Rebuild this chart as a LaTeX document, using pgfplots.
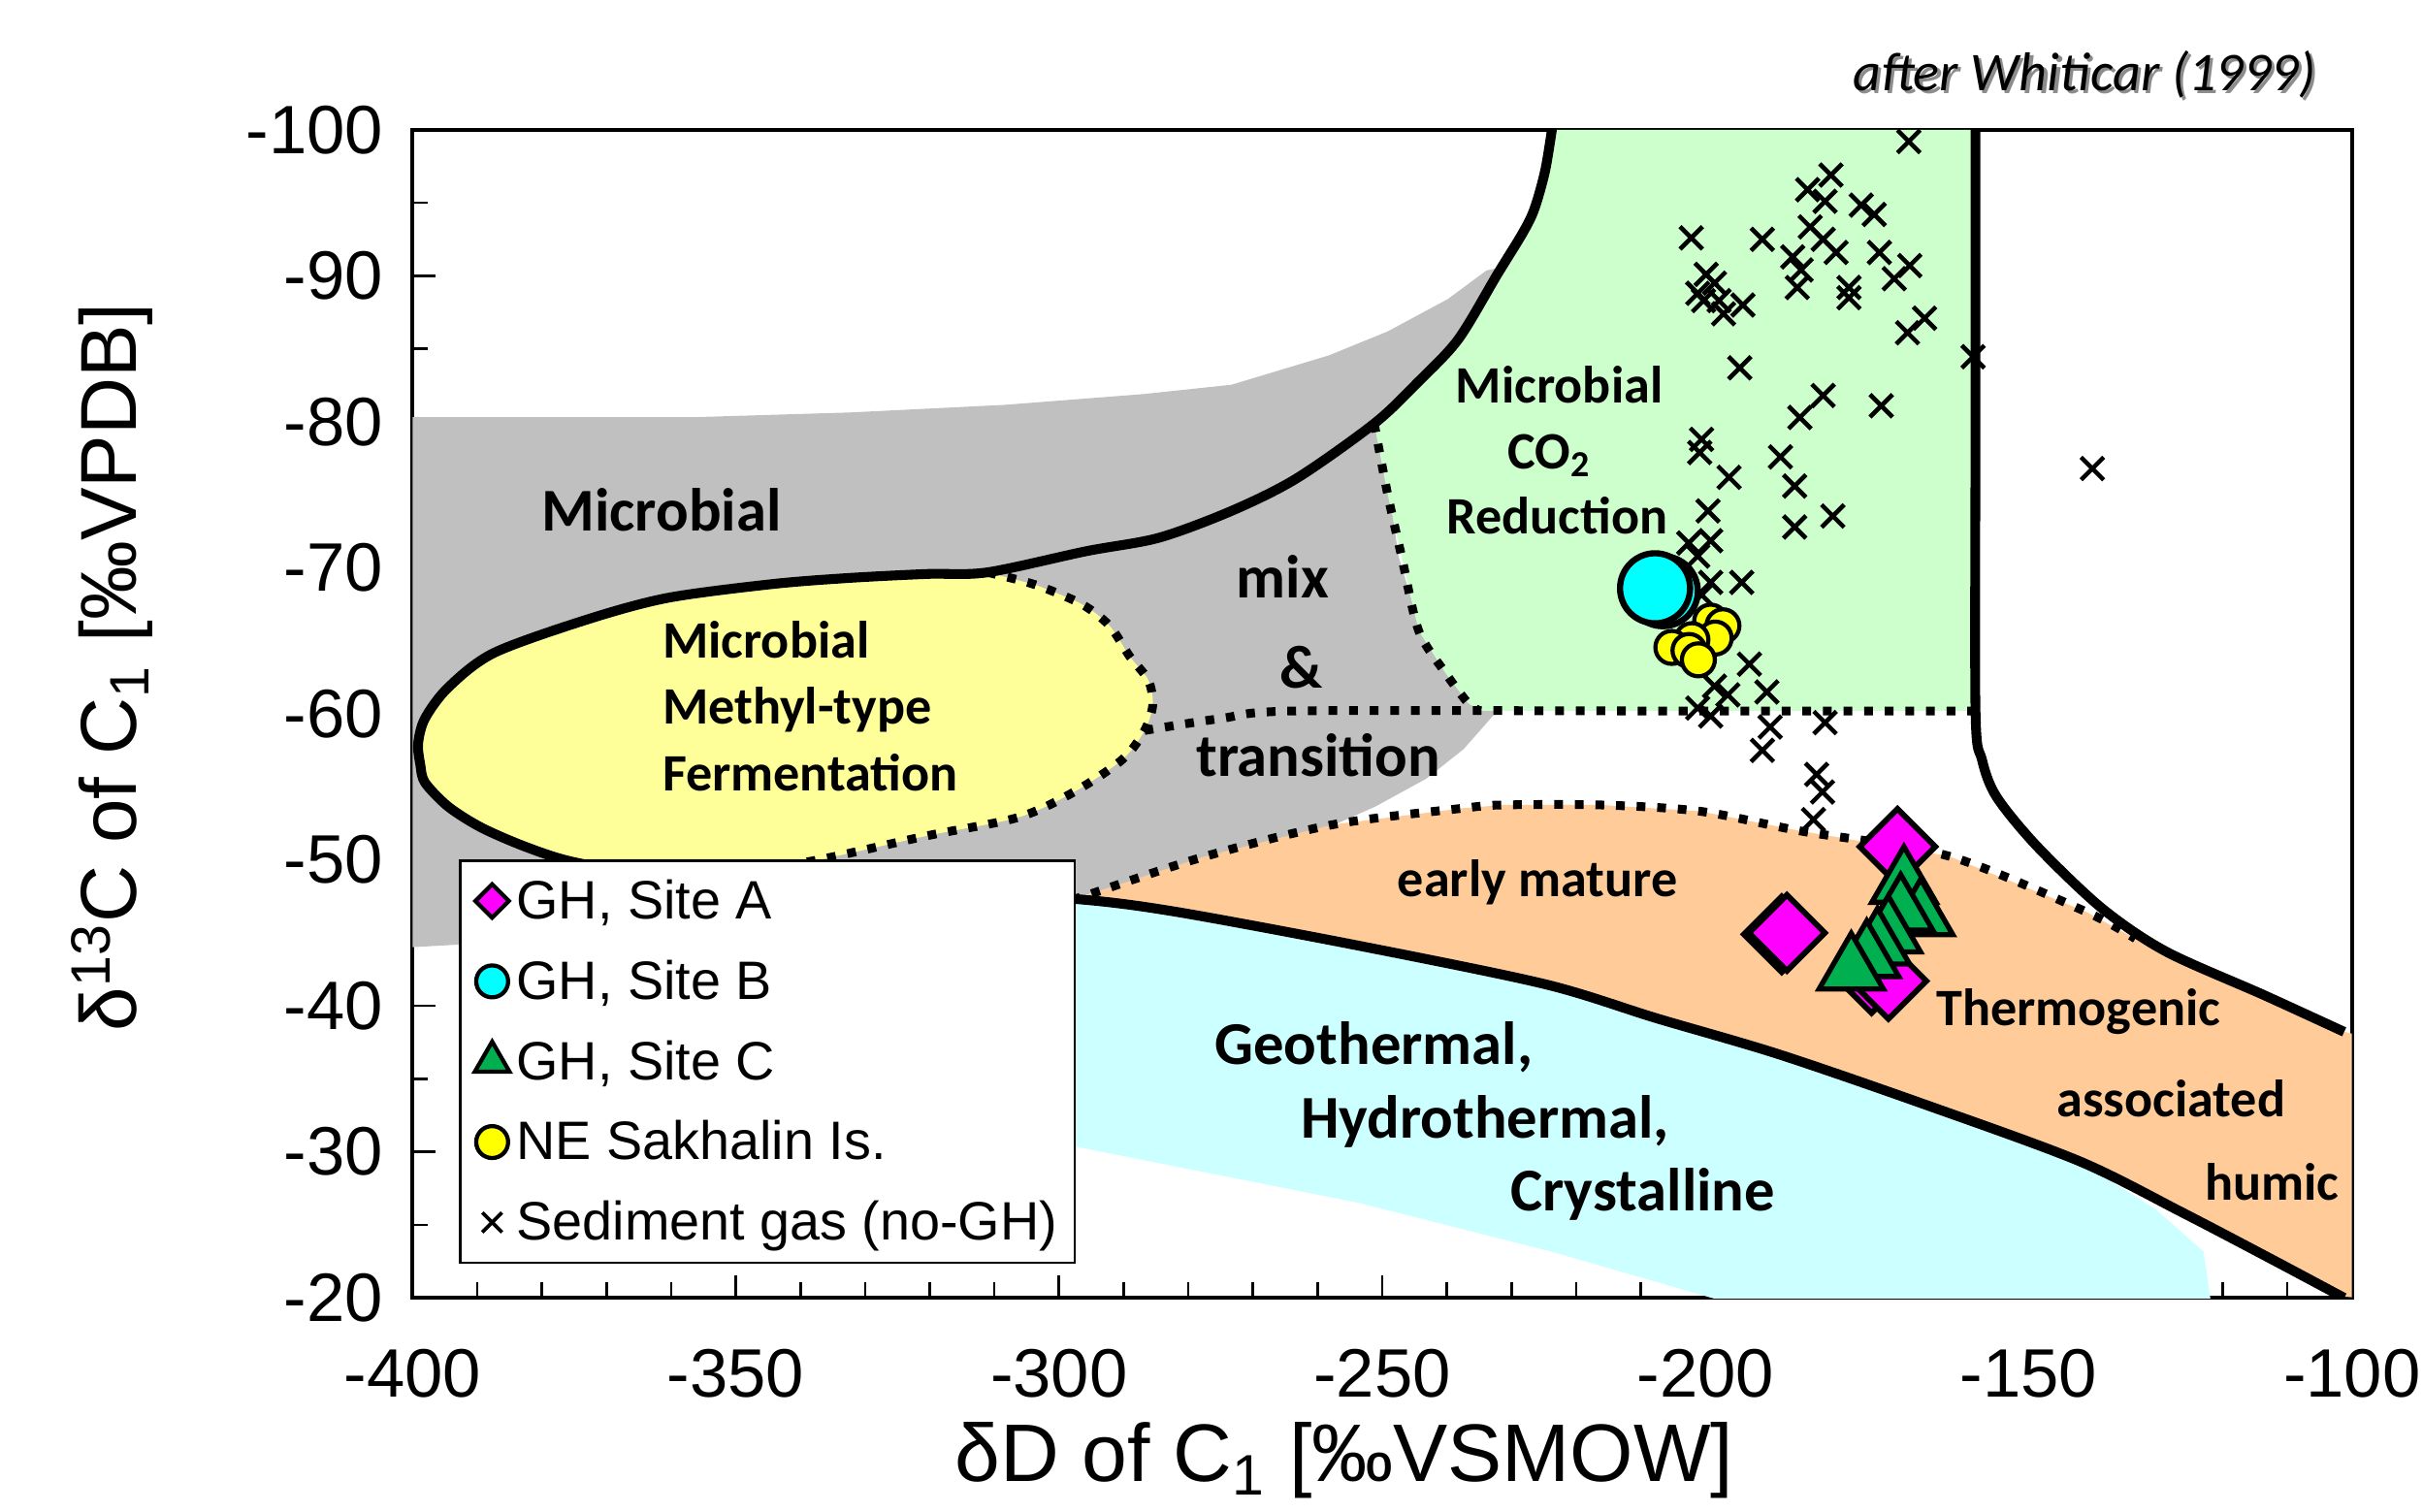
\documentclass[border=0pt]{standalone}
\usepackage{fontspec}
\setmainfont{Liberation Sans}
\newfontfamily\calibri{Carlito}
\usepackage{pgfplots}
\pgfplotsset{compat=1.18}
\definecolor{mgrey}{HTML}{C0C0C0}
\definecolor{mgreen}{HTML}{CCFFCC}
\definecolor{myellow}{HTML}{FFFF99}
\definecolor{morange}{HTML}{FFCC99}
\definecolor{mcyan}{HTML}{CCFFFF}
\definecolor{gtri}{HTML}{00B050}
\definecolor{cmark}{HTML}{00FFFF}
\definecolor{ymark}{HTML}{FFFF00}
\definecolor{dmark}{HTML}{FF00FF}
\newcommand\lblS{\calibri\bfseries\fontsize{10.2}{12.9}\selectfont}
\newcommand\lblL{\calibri\bfseries\fontsize{11.8}{14}\selectfont}
\pgfplotsset{
  myleg/.style={legend image code/.code={\path (-3.6pt,0pt);\draw[##1,#1] plot coordinates {(0pt,0pt)};}},
  mydot/.style={black, line width=1.7pt, dash pattern=on 1.7pt off 2.3pt, smooth, tension=0.5, forget plot},
  mysolid/.style={black, line width=1.9pt, line join=round, smooth, tension=0.5, forget plot},
}
\begin{document}
\begin{tikzpicture}
\useasboundingbox (-80.1pt,-41.4pt) rectangle (390.3pt,252pt);
\begin{axis}[
  at={(0pt,0pt)}, anchor=south west,
  scale only axis, width=376.5pt, height=226.8pt,
  xmin=-400, xmax=-100, ymin=-100, ymax=-20, y dir=reverse,
  xtick={-400,-350,...,-100}, ytick={-100,-90,...,-20},
  xticklabels={-400,-350,-300,-250,-200,-150,-100},
  yticklabels={-100,-90,-80,-70,-60,-50,-40,-30,-20},
  minor x tick num=4, minor y tick num=1,
  tick align=inside, xtick pos=left, ytick pos=left,
  major tick length=4.4pt, minor tick length=3pt,
  tick style={black, line width=0.5pt},
  axis line style={line width=0.8pt},
  ticklabel style={font=\fontsize{13.3}{14}\selectfont},
  xticklabel shift=6.4pt, yticklabel shift=2.2pt,
  xlabel={δD of C\textsubscript{1} [‰VSMOW]},
  ylabel={δ\textsuperscript{13}C of C\textsubscript{1} [‰VPDB]},
  every axis x label/.style={at={(axis description cs:0.4805,-0.1389)}, anchor=center, font=\fontsize{15.85}{18}\selectfont},
  every axis y label/.style={at={(axis description cs:-0.155,0.54)}, anchor=center, rotate=90, font=\fontsize{15.4}{18}\selectfont},
  legend style={at={(axis description cs:0.0239,0.0291)}, anchor=south west,
    draw=black, line width=0.5pt, fill=white,
    font=\fontsize{10.5}{12}\selectfont,
    inner xsep=2pt, inner ysep=0pt, row sep=0pt, column sep=0pt,
    nodes={inner ysep=2.5pt, inner xsep=1.35pt, text height=8.75pt, text depth=1.85pt}},
  legend cell align=left,
]
% ---------- regions ----------
\addplot[draw=none, fill=mgrey, forget plot] coordinates {
(-400,-80.32) (-356.26,-80.32) (-332.35,-80.64) (-308.45,-81.16) (-286.93,-81.90) (-273.31,-82.54) (-258.25,-84.55) (-249.16,-86.19) (-239.84,-88.41) (-233.86,-90.37) (-231.47,-90.58) (-234.34,-86.67) (-241.51,-82.43) (-249.88,-78.20) (-247.49,-70.79) (-243.90,-65.50) (-236.73,-61.27) (-232.19,-60.21) (-237.45,-57.57) (-243.19,-55.56) (-251.07,-53.65) (-257.53,-52.38) (-277.37,-50.05) (-296.49,-47.51) (-344.30,-45.40) (-400,-44.02)
} -- cycle;
\addplot[draw=none, fill=mgreen, forget plot] coordinates {
(-223.59,-100) (-158.23,-100) (-158.23,-60.21) (-234.82,-60.21) (-236.73,-60.74) (-240.32,-62.86) (-244.38,-65.71) (-247.01,-70.79) (-249.16,-75.03) (-251.24,-79.88) (-244.63,-82.65) (-238.26,-85.64) (-232.24,-90.07) (-228.25,-92.95) (-226.45,-94.60) (-224.78,-97.25)
} -- cycle;
\addplot[draw=none, fill=myellow, smooth, tension=0.5, forget plot] coordinates {
(-311.08,-69.69) (-320.40,-69.58) (-332.35,-69.31) (-344.30,-68.89) (-360.56,-67.94) (-373.0,-66.46) (-387.43,-64.17) (-394.50,-61.80) (-398.09,-59.68) (-399.14,-57.97) (-398.80,-56.51) (-398.09,-55.30) (-394.50,-53.65) (-389.36,-52.21) (-382.55,-50.90) (-375.38,-49.88) (-363.43,-48.99) (-350,-49.2) (-337.85,-49.95) (-320.40,-51.65) (-306.30,-52.91) (-297.69,-54.65) (-290.21,-56.87) (-286.77,-58.86) (-285.50,-60.63) (-286.22,-62.33) (-289.08,-63.94) (-292.19,-66.03) (-296.49,-67.51) (-303.67,-68.84)
} -- cycle;
\addplot[draw=none, fill=morange, forget plot] coordinates {
(-297.76,-47.33) (-295.90,-47.55) (-277.61,-50.21) (-257.53,-52.42) (-237.45,-53.54) (-231.24,-53.76) (-216.18,-53.76) (-200.88,-53.33) (-185.34,-51.98) (-162.39,-50.26) (-141.21,-46.46) (-133.5,-44.6) (-128.76,-43.72) (-113.72,-40.76) (-101.20,-38.22) (-99,-38.0) (-99,-20) (-101.67,-20.11) (-112.43,-22.65) (-126.29,-25.86) (-142.31,-29.39) (-166.93,-33.38) (-188.92,-36.72) (-207.57,-39.15) (-224.78,-41.48) (-253.75,-44.13) (-282.15,-46.46)
} -- cycle;
\addplot[draw=none, fill=mcyan, forget plot] coordinates {
(-301.27,-47.42) (-297.76,-47.33) (-282.15,-46.46) (-253.75,-44.13) (-224.78,-41.48) (-207.57,-39.15) (-188.92,-36.72) (-166.93,-33.38) (-142.31,-29.39) (-130.36,-26.07) (-122.95,-23.17) (-121.75,-19.5) (-195.14,-19.5) (-223.83,-23.17) (-253.75,-26.52) (-297.76,-30.39) (-301.27,-30.69)
} -- cycle;
% ---------- boundaries ----------
\addplot[mysolid] coordinates {
(-223.59,-100.5) (-224.78,-97.25) (-226.45,-94.60) (-228.25,-92.95) (-232.24,-90.07) (-238.26,-85.64) (-244.63,-82.65) (-251.24,-79.88) (-263.27,-76.12) (-273.26,-73.91) (-284.54,-72.06) (-295.78,-71.14) (-311.08,-69.69) (-320.40,-69.58) (-332.35,-69.31) (-344.30,-68.89) (-360.56,-67.94) (-373.0,-66.46) (-387.43,-64.17) (-394.50,-61.80) (-398.09,-59.68) (-399.14,-57.97) (-398.80,-56.51) (-398.09,-55.30) (-394.50,-53.65) (-389.36,-52.21) (-382.55,-50.90) (-375.38,-49.88) (-363.43,-48.99) (-344.30,-48.36) (-320.40,-47.83) (-297.76,-47.33) (-282.15,-46.46) (-253.75,-44.13) (-224.78,-41.48) (-207.57,-39.15) (-188.92,-36.72) (-166.93,-33.38) (-142.31,-29.39) (-126.29,-25.86) (-112.43,-22.65) (-101.2,-20)
};
\addplot[mysolid] coordinates {
(-158.23,-100.5) (-158.23,-80) (-158.23,-60.25) (-157.23,-56.86) (-154.98,-54.32) (-148.72,-50.93) (-138.72,-46.70) (-128.76,-43.72) (-113.72,-40.76) (-101.20,-38.22)
};
\addplot[mydot] coordinates {
(-311.08,-69.69) (-303.67,-68.84) (-296.49,-67.51) (-292.19,-66.03) (-289.08,-63.94) (-286.22,-62.33) (-285.50,-60.63) (-286.77,-58.86) (-290.21,-56.87) (-297.69,-54.65) (-306.30,-52.91) (-320.40,-51.65) (-337.85,-49.95) (-350,-49.2)
};
\addplot[mydot] coordinates {
(-286.77,-58.86) (-274.98,-59.68) (-263.27,-60.2) (-210,-60.2) (-158.23,-60.2)
};
\addplot[mydot] coordinates {
(-251.24,-79.88) (-249.16,-75.03) (-247.01,-70.79) (-244.38,-65.71) (-240.32,-62.86) (-236.73,-60.74) (-234.82,-60.2)
};
\addplot[mydot] coordinates {
(-297.76,-47.33) (-295.90,-47.55) (-277.61,-50.21) (-257.53,-52.42) (-237.45,-53.54) (-231.24,-53.76) (-216.18,-53.76) (-200.88,-53.33) (-185.34,-51.98) (-162.39,-50.26) (-141.21,-46.46) (-133.5,-44.6)
};
% ---------- region labels ----------
\node[font=\lblL] at (axis cs:-361.5,-73.97) {Microbial};
\node[font=\lblS, align=left, anchor=west, inner xsep=0pt] at (axis cs:-361.5,-60.53) {Microbial\\Methyl-type\\Fermentation};
\node[font=\lblL] at (axis cs:-265.4,-69.42) {mix};
\node[font=\lblL] at (axis cs:-262.55,-63.17) {\&};
\node[font=\lblL] at (axis cs:-259.9,-57.14) {transition};
\node[font=\lblS] at (axis cs:-222.6,-82.54) {Microbial};
\node[font=\lblS] at (axis cs:-224.1,-77.67) {CO\textsubscript{2}};
\node[font=\lblS] at (axis cs:-222.9,-73.55) {Reduction};
\node[font=\lblS] at (axis cs:-225.98,-48.47) {early mature};
\node[font=\lblL] at (axis cs:-251.3,-37.14) {Geothermal,};
\node[font=\lblL] at (axis cs:-234.1,-32.06) {Hydrothermal,};
\node[font=\lblL] at (axis cs:-209.7,-27.09) {Crystalline};
\node[font=\lblS] at (axis cs:-142.3,-39.58) {Thermogenic};
\node[font=\lblS] at (axis cs:-128.0,-33.65) {associated};
\node[font=\lblS] at (axis cs:-112.4,-27.94) {humic};
% ---------- data ----------
\addplot[only marks, mark=x, mark size=3.1pt, line width=0.85pt, black, forget plot] coordinates {
(-168.55,-99.2) (-180.6,-96.9) (-184.2,-95.9) (-175.9,-94.84) (-173.9,-94.2) (-181.5,-95.1)
(-202.2,-92.6) (-191.2,-92.5) (-183.8,-93.35) (-181.8,-92.5) (-186.5,-91.3) (-179.8,-91.6)
(-173.1,-91.6) (-168.4,-90.7) (-170.8,-89.8) (-185.2,-90.4) (-185.8,-89.2) (-177.8,-89.2)
(-177.8,-88.5) (-199.9,-90.1) (-198.6,-89.5) (-201.2,-88.8) (-197.9,-88.3) (-197.2,-87.4)
(-194.2,-88.0) (-200.3,-88.3) (-166.1,-87.1) (-168.75,-86.1) (-158.6,-84.46) (-194.7,-83.7)
(-181.8,-81.8) (-185.4,-80.3) (-172.8,-81.1) (-200.6,-78.8) (-200.9,-77.9) (-196.35,-76.2)
(-188.4,-77.6) (-186.2,-75.6) (-186.2,-72.8) (-180.3,-73.55) (-199.6,-73.9) (-199.2,-71.86)
(-202.6,-71.7) (-201.2,-70.8) (-199.2,-69.0) (-194.4,-69.0) (-200.6,-68.15) (-193.2,-63.4)
(-190.5,-61.5) (-198.6,-61.9) (-196.55,-61.3) (-201.2,-60.4) (-199.2,-59.85) (-190.0,-59.1)
(-181.5,-59.4) (-191.2,-57.5) (-182.8,-55.85) (-181.9,-54.65) (-183.3,-52.76) (-140.15,-76.8)
};
\addplot[only marks, mark=square*, mark size=5.2pt, line width=1.1pt,
  mark options={draw=black, fill=dmark, rotate=45}, myleg={mark size=2.3pt, line width=0.8pt}] coordinates {
(-188.2,-44.9) (-187.4,-45.0) (-174.3,-42.1) (-171.7,-41.7) (-170.3,-50.9)
};
\addlegendentry{GH, Site A}
\addplot[only marks, mark=*, mark size=6.8pt, line width=1.2pt,
  mark options={draw=black, fill=cmark}, myleg={mark size=3.1pt, line width=0.8pt}] coordinates {
(-206.6,-68.4) (-207.8,-68.6)
};
\addlegendentry{GH, Site B}
\addplot[only marks, mark=triangle*, mark size=7.2pt, line width=1.0pt,
  mark options={draw=black, fill=gtri}, myleg={mark size=3.9pt, line width=0.8pt}] coordinates {
(-169.3,-48.36) (-166.7,-46.14) (-169.8,-46.45) (-171.71,-44.97) (-173.39,-44.13) (-175.06,-43.28) (-177.45,-42.43)
};
\addlegendentry{GH, Site C}
\addplot[only marks, mark=*, mark size=3.2pt, line width=0.8pt,
  mark options={draw=black, fill=ymark}, myleg={mark size=3.1pt, line width=0.8pt}] coordinates {
(-199.2,-66.35) (-197.3,-66.03) (-198.5,-65.19) (-202.1,-65.08) (-205.2,-64.55) (-202.55,-64.34) (-201.1,-63.7)
};
\addlegendentry{NE Sakhalin Is.}
\addlegendimage{only marks, mark=x, black, line width=0.7pt, myleg={mark size=2.7pt}}
\addlegendentry{Sediment gas (no-GH)}
\end{axis}
\node[anchor=east, text=black!45, font=\calibri\itshape\fontsize{10.6}{12}\selectfont] at (373.6pt,237.0pt) {after Whiticar (1999)};
\node[anchor=east, font=\calibri\itshape\fontsize{10.6}{12}\selectfont] at (373.0pt,237.6pt) {after Whiticar (1999)};
\end{tikzpicture}
\end{document}
